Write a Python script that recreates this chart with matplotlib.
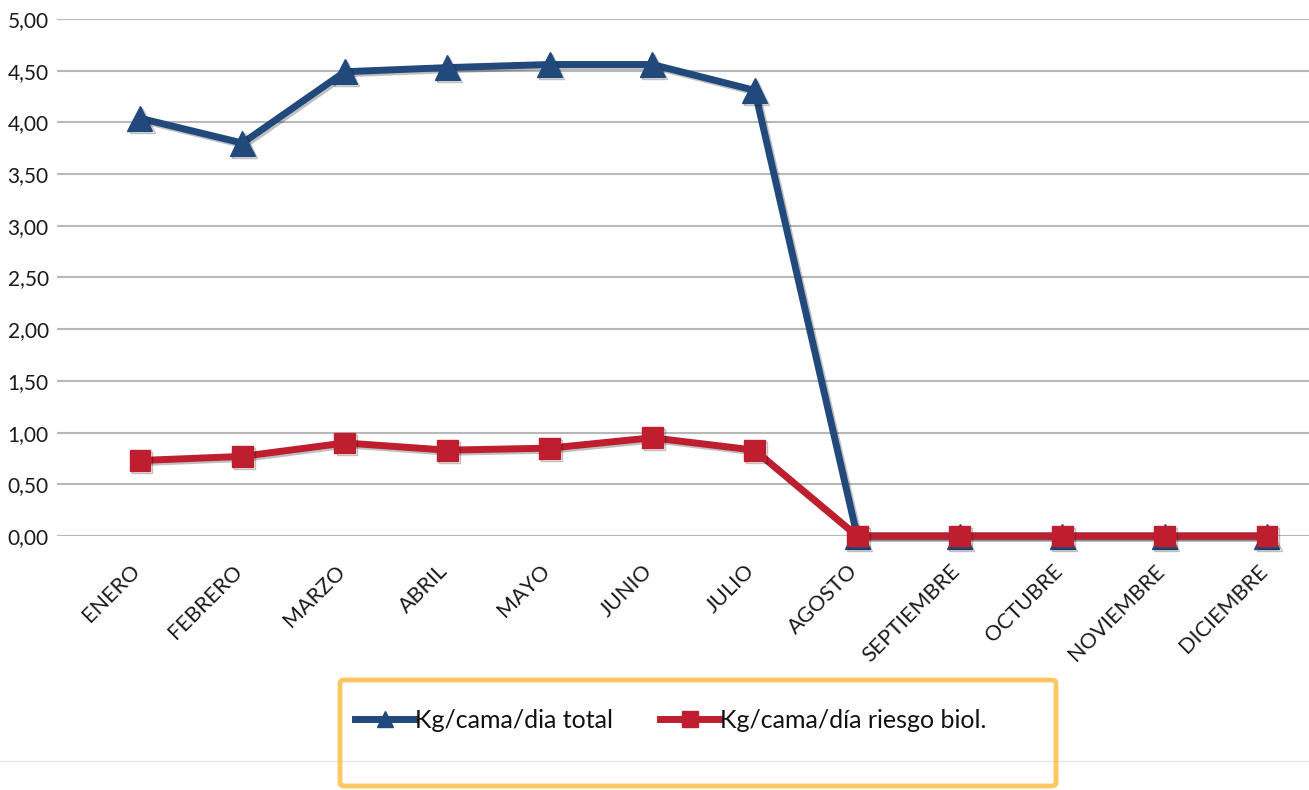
import matplotlib
matplotlib.use("Agg")
import matplotlib.pyplot as plt
from matplotlib.patches import FancyBboxPatch
from matplotlib.lines import Line2D
from matplotlib.ticker import FuncFormatter, MultipleLocator
from matplotlib.transforms import ScaledTranslation
import matplotlib.patheffects as pe

months = ["ENERO", "FEBRERO", "MARZO", "ABRIL", "MAYO", "JUNIO", "JULIO",
          "AGOSTO", "SEPTIEMBRE", "OCTUBRE", "NOVIEMBRE", "DICIEMBRE"]
total = [4.04, 3.80, 4.49, 4.53, 4.56, 4.56, 4.31, 0, 0, 0, 0, 0]
riesgo = [0.73, 0.77, 0.90, 0.83, 0.85, 0.95, 0.83, 0, 0, 0, 0, 0]
labels = ["Kg/cama/dia total", "Kg/cama/día riesgo biol."]

plt.rcParams['font.family'] = ['Lato', 'DejaVu Sans']

W, H = 1309, 790
fig = plt.figure(figsize=(W / 100, H / 100), dpi=100)
ax = fig.add_axes([57 / W, 1 - 536 / H, 1 - 57 / W, (536 - 19) / H])

blue = "#22497C"
red = "#BF1E2E"
shadow = [pe.SimpleLineShadow(offset=(1.5, -1.5), alpha=0.25), pe.Normal()]
x = list(range(len(months)))
ax.plot(x, total, color=blue, lw=5, marker="^", ms=18, clip_on=False,
        zorder=3, path_effects=shadow)
ax.plot(x, riesgo, color=red, lw=5, marker="s", ms=15, clip_on=False,
        zorder=4, path_effects=shadow)

ax.set_xlim(-0.81, 11.41)
ax.set_ylim(0, 5)
ax.yaxis.set_major_locator(MultipleLocator(0.5))
ax.yaxis.set_major_formatter(FuncFormatter(lambda v, p: f"{v:.2f}".replace(".", ",")))
ax.grid(axis="y", color="#B8B8B8", lw=1.5)
ax.set_axisbelow(True)
for s in ax.spines.values():
    s.set_visible(False)
ax.tick_params(axis="both", length=0, labelsize=15, colors="#1a1a1a")
ax.tick_params(axis="y", pad=6)
ax.set_xticks(x)
ax.set_xticklabels(months, rotation=45, ha="right", rotation_mode="anchor",
                   fontsize=15.5)
ax.tick_params(axis="x", pad=18)
off = ScaledTranslation(-10 / 100, 0, fig.dpi_scale_trans)
for lab in ax.get_xticklabels():
    lab.set_transform(lab.get_transform() + off)

# thin line across the bottom
fig.add_artist(Line2D([0, 1], [1 - 761 / H, 1 - 761 / H], color="#E6E6E6", lw=1))

# legend frame
box = FancyBboxPatch((340 / W, 1 - 786 / H), 716 / W, 106 / H,
                     boxstyle="round,pad=0,rounding_size=0.004",
                     transform=fig.transFigure, facecolor="none",
                     edgecolor="#FDC864", lw=3.5, zorder=5)
fig.add_artist(box)

handles = [Line2D([], [], color=blue, lw=5, marker="^", ms=12),
           Line2D([], [], color=red, lw=5, marker="s", ms=11)]
fig.legend(handles, labels, loc="center left",
           bbox_to_anchor=(332 / W, 1 - 720 / H), ncol=2, frameon=False,
           fontsize=18, handlelength=2.4, handletextpad=0.0,
           columnspacing=1.9, labelcolor="#111111")

fig.savefig("out.png", dpi=100)
